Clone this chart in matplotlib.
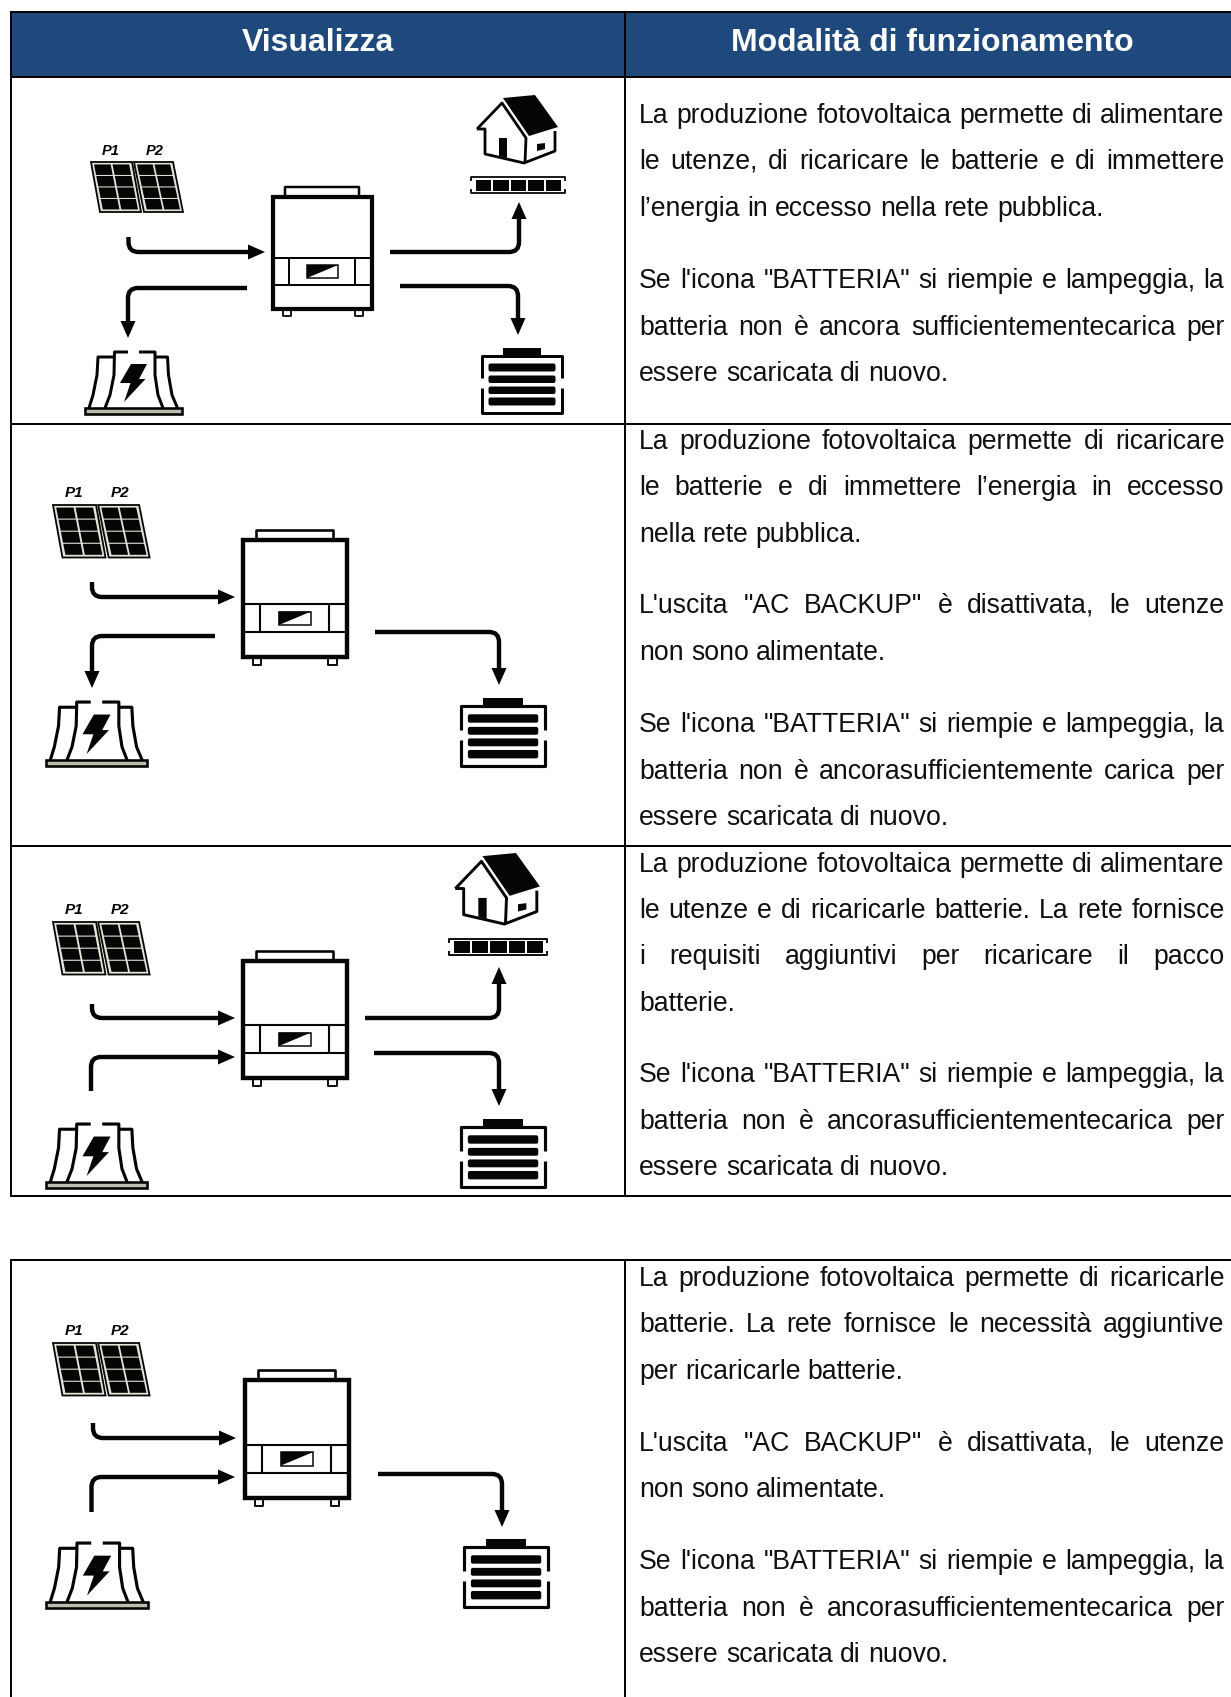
import matplotlib
matplotlib.use("Agg")
import matplotlib.pyplot as plt
from matplotlib.patches import Polygon, Rectangle, PathPatch, FancyBboxPatch
from matplotlib.path import Path

W, H = 1231, 1697
plt.rcParams['font.family'] = ['Liberation Sans', 'DejaVu Sans']

headers = ["Visualizza", "Modalità di funzionamento"]
header_x = [317.5, 932]

# text lines of every row, y is the baseline in pixels, plain = not justified
row1_lines = ["La produzione fotovoltaica permette di alimentare",
              "le utenze, di ricaricare le batterie e di immettere",
              "l’energia in eccesso nella rete pubblica.",
              "Se l'icona \"BATTERIA\" si riempie e lampeggia, la",
              "batteria non è ancora sufficientementecarica per",
              "essere scaricata di nuovo."]
row1_y = [123, 169, 216, 288, 335, 381]
row1_plain = [2, 5]

row2_lines = ["La produzione fotovoltaica permette di ricaricare",
              "le batterie e di immettere l’energia in eccesso",
              "nella rete pubblica.",
              "L'uscita \"AC BACKUP\" è disattivata, le utenze",
              "non sono alimentate.",
              "Se l'icona \"BATTERIA\" si riempie e lampeggia, la",
              "batteria non è ancorasufficientemente carica per",
              "essere scaricata di nuovo."]
row2_y = [449, 495, 542, 613, 660, 732, 779, 825]
row2_plain = [2, 4, 7]

row3_lines = ["La produzione fotovoltaica permette di alimentare",
              "le utenze e di ricaricarle batterie. La rete fornisce",
              "i requisiti aggiuntivi per ricaricare il pacco",
              "batterie.",
              "Se l'icona \"BATTERIA\" si riempie e lampeggia, la",
              "batteria non è ancorasufficientementecarica per",
              "essere scaricata di nuovo."]
row3_y = [872, 918, 964, 1011, 1082, 1129, 1175]
row3_plain = [3, 6]

row4_lines = ["La produzione fotovoltaica permette di ricaricarle",
              "batterie. La rete fornisce le necessità aggiuntive",
              "per ricaricarle batterie.",
              "L'uscita \"AC BACKUP\" è disattivata, le utenze",
              "non sono alimentate.",
              "Se l'icona \"BATTERIA\" si riempie e lampeggia, la",
              "batteria non è ancorasufficientementecarica per",
              "essere scaricata di nuovo."]
row4_y = [1286, 1332, 1379, 1451, 1497, 1569, 1616, 1662]
row4_plain = [2, 4, 7]

# where the icons go: (left, top, scale)
panels_at = [(91, 162, 1.0), (53, 505, 1.05), (53, 922, 1.05), (53, 1343, 1.05)]
inverter_at = [(271, 186, 1.0), (241, 529, 1.045), (241, 950, 1.045), (243, 1369, 1.05)]
station_at = [(84, 351, 1.0), (45, 701, 1.04), (45, 1123, 1.04), (45, 1542, 1.05)]
battery_at = [(481, 348, 1.0), (460, 698, 1.05), (460, 1119, 1.05), (463, 1539, 1.05)]
house_at = [(470, 95, 1.0), (448, 853, 1.045)]

# arrows as corner lists, last point is the tip
arrows = [
    [(128.5, 237), (128.5, 252), (265, 252)],
    [(247, 288), (128, 288), (128, 338)],
    [(390, 252), (519, 252), (519, 202)],
    [(400, 286), (518, 286), (518, 335)],
    [(92, 582), (92, 597), (235, 597)],
    [(215, 636), (92, 636), (92, 688)],
    [(375, 632), (499, 632), (499, 685)],
    [(92, 1004), (92, 1018), (235, 1018)],
    [(91, 1091), (91, 1057), (235, 1057)],
    [(365, 1018), (499, 1018), (499, 967)],
    [(374, 1053), (499, 1053), (499, 1106)],
    [(93, 1423), (93, 1438), (236, 1438)],
    [(91.5, 1512), (91.5, 1477), (235, 1477)],
    [(378, 1474), (502, 1474), (502, 1527)],
]

PX = 0.72
INK = "#050505"
FS = 19.15

fig = plt.figure(figsize=(W / 100, H / 100), dpi=100)
ax = fig.add_axes([0, 0, 1, 1])
ax.set_xlim(0, W)
ax.set_ylim(H, 0)
ax.axis("off")


def seg(pts, lw, ox, oy, s, x0, y0, **kw):
    xs = [ox + s * (p[0] - x0) for p in pts]
    ys = [oy + s * (p[1] - y0) for p in pts]
    ax.plot(xs, ys, color=INK, lw=lw * PX * s, solid_capstyle="butt", solid_joinstyle="round", **kw)


def poly(pts, ox, oy, s, x0, y0, fc=INK, ec="none", lw=0):
    xy = [(ox + s * (p[0] - x0), oy + s * (p[1] - y0)) for p in pts]
    ax.add_patch(Polygon(xy, closed=True, fc=fc, ec=ec, lw=lw * PX))


def draw_panels(ox, oy, s):
    x0, y0 = 91, 162
    for tl, tr, br, bl, lab_x in [(91, 132, 141, 100, 111), (134, 173, 183, 144, 155)]:
        poly([(tl, 162), (tr, 162), (br, 212), (bl, 212)], ox, oy, s, x0, y0, fc="#e4e4d8", ec=INK, lw=1.8)
        for i in range(2):
            for j in range(4):
                t0, t1 = (j + 0.04) / 4, (j + 0.95) / 4
                a0, a1 = (i + 0.05) / 2, (i + 0.95) / 2
                pts = []
                for a, t in [(a0, t0), (a1, t0), (a1, t1), (a0, t1)]:
                    lx = tl + (bl - tl) * t
                    rx = tr + (br - tr) * t
                    pts.append((lx + 2 + (rx - lx - 4) * a, 164 + 46 * t))
                poly(pts, ox, oy, s, x0, y0)
        ax.text(ox + s * (lab_x - x0), oy + s * (151 - y0), "P" + ("1" if lab_x == 111 else "2"),
                fontsize=10.5 * s, fontweight="bold", style="italic", color=INK, ha="center", va="center")


def draw_inverter(ox, oy, s):
    x0, y0 = 272, 187
    seg([(286, 196), (286, 188), (360, 188), (360, 196)], 2.5, ox, oy, s, x0, y0)
    poly([(274, 197.5), (373, 197.5), (373, 309.5), (274, 309.5)], ox, oy, s, x0, y0, fc="white", ec=INK, lw=4.2 * s)
    seg([(275, 259), (372, 259)], 2, ox, oy, s, x0, y0)
    seg([(275, 286), (372, 286)], 2, ox, oy, s, x0, y0)
    seg([(290, 259), (290, 286)], 2, ox, oy, s, x0, y0)
    seg([(356, 259), (356, 286)], 2, ox, oy, s, x0, y0)
    poly([(308, 266), (339, 266), (339, 279), (308, 279)], ox, oy, s, x0, y0, fc="white", ec=INK, lw=1.5)
    poly([(308, 266), (339, 266), (308, 279)], ox, oy, s, x0, y0)
    for fx in (283.5, 355.5):
        seg([(fx, 311), (fx, 317), (fx + 8, 317), (fx + 8, 311)], 1.8, ox, oy, s, x0, y0)


def draw_station(ox, oy, s):
    x0, y0 = 84, 351
    poly([(85, 408), (182, 408), (182, 413.5), (85, 413.5)], ox, oy, s, x0, y0, fc="#bdbdb0", ec=INK, lw=2.6)
    seg([(114, 357), (98, 357), (97, 375), (93, 395), (89, 408)], 3, ox, oy, s, x0, y0)
    seg([(155, 357), (167.5, 357), (168.5, 375), (172, 395), (177.5, 408)], 3, ox, oy, s, x0, y0)
    seg([(128, 352), (114.5, 352), (114, 375), (110, 395), (105, 408)], 3, ox, oy, s, x0, y0)
    seg([(139, 352), (155, 352), (155, 375), (158, 395), (163, 408)], 3, ox, oy, s, x0, y0)
    poly([(131, 364), (147, 364), (139, 379), (145.5, 379), (124, 402), (130.5, 383), (120, 383)],
         ox, oy, s, x0, y0)


def draw_battery(ox, oy, s):
    x0, y0 = 481, 348
    poly([(503, 348), (541, 348), (541, 355), (503, 355)], ox, oy, s, x0, y0)
    seg([(482, 378), (482, 355.5), (562, 355.5), (562, 378)], 3, ox, oy, s, x0, y0)
    seg([(482, 388), (482, 413), (562, 413), (562, 388)], 3, ox, oy, s, x0, y0)
    for top, bot in [(363.5, 371.5), (375.5, 383), (386.5, 394), (397.5, 405.5)]:
        bx = ox + s * (488.5 - x0)
        by = oy + s * (top - y0)
        ax.add_patch(FancyBboxPatch((bx + 2, by + 2), s * 67 - 4, s * (bot - top) - 4,
                                    boxstyle="round,pad=2", fc=INK, ec="none"))


def draw_house(ox, oy, s):
    x0, y0 = 470, 94
    poly([(503, 97), (535, 94), (558, 126), (529, 135)], ox, oy, s, x0, y0)
    seg([(477, 128), (502, 102), (526, 137), (525, 162)], 2.8, ox, oy, s, x0, y0)
    seg([(477, 128), (485, 128), (485, 153), (524, 162), (555, 150), (555, 130)], 2.8, ox, oy, s, x0, y0)
    poly([(499, 137), (507, 137), (507, 157), (499, 155)], ox, oy, s, x0, y0)
    poly([(537, 143), (545, 142), (545, 148), (537, 150)], ox, oy, s, x0, y0)
    # strip below the house
    seg([(471, 180), (471, 176), (565, 176), (565, 180)], 1.8, ox, oy, s, x0, y0)
    seg([(471, 188), (471, 192), (565, 192), (565, 188)], 1.8, ox, oy, s, x0, y0)
    for k in range(5):
        cx = 475.5 + k * 17.5
        poly([(cx, 178.5), (cx + 15.5, 178.5), (cx + 15.5, 189.5), (cx, 189.5)], ox, oy, s, x0, y0)


def draw_arrow(pts):
    (xa, ya), (xb, yb), (xc, yc) = pts
    r = 10
    sign = lambda v: (v > 0) - (v < 0)
    d1 = (sign(xb - xa), sign(yb - ya))
    d2 = (sign(xc - xb), sign(yc - yb))
    end = (xc - d2[0] * 12, yc - d2[1] * 12)
    verts = [(xa, ya), (xb - d1[0] * r, yb - d1[1] * r), (xb, yb), (xb + d2[0] * r, yb + d2[1] * r), end]
    codes = [Path.MOVETO, Path.LINETO, Path.CURVE3, Path.CURVE3, Path.LINETO]
    ax.add_patch(PathPatch(Path(verts, codes), fc="none", ec=INK, lw=4.4 * PX, capstyle="butt"))
    hl, hw = 17, 7.5
    bx, by = xc - d2[0] * hl, yc - d2[1] * hl
    px, py = -d2[1], d2[0]
    ax.add_patch(Polygon([(xc, yc), (bx + px * hw, by + py * hw), (bx - px * hw, by - py * hw)],
                         closed=True, fc=INK, ec="none"))


def draw_lines(lines, ys, plain):
    left, right = 639, 1224.5
    rend = fig.canvas.get_renderer()
    for i, line in enumerate(lines):
        words = line.split(" ")
        items = [ax.text(left, ys[i], w, fontsize=FS, color="#101010", ha="left", va="baseline") for w in words]
        widths = [t.get_window_extent(rend).width for t in items]
        if i in plain or len(words) == 1:
            gap = FS * 100 / 72 * 0.278
        else:
            gap = (right - left - sum(widths)) / (len(words) - 1)
        x = left
        for t, w in zip(items, widths):
            t.set_x(x)
            x += w + gap


# header band and table grid
ax.add_patch(Rectangle((10.5, 12), W - 10.5, 65, fc="#1F497C", ec="none"))
for name, hx in zip(headers, header_x):
    ax.text(hx, 51, name, fontsize=23.0, fontweight="bold", color="white", ha="center", va="baseline")

for y in [12, 77, 423.5, 846, 1196, 1260]:
    ax.plot([10.5, W], [y, y], color=INK, lw=2 * PX, solid_capstyle="butt")
for x, y0, y1 in [(10.5, 11, 1197), (624.5, 11, 1197), (10.5, 1259, H), (624.5, 1259, H)]:
    ax.plot([x, x], [y0, y1], color=INK, lw=2 * PX, solid_capstyle="butt")

for a in panels_at:
    draw_panels(*a)
for a in inverter_at:
    draw_inverter(*a)
for a in station_at:
    draw_station(*a)
for a in battery_at:
    draw_battery(*a)
for a in house_at:
    draw_house(*a)
for a in arrows:
    draw_arrow(a)

draw_lines(row1_lines, row1_y, row1_plain)
draw_lines(row2_lines, row2_y, row2_plain)
draw_lines(row3_lines, row3_y, row3_plain)
draw_lines(row4_lines, row4_y, row4_plain)

fig.savefig("out.png", dpi=100)
